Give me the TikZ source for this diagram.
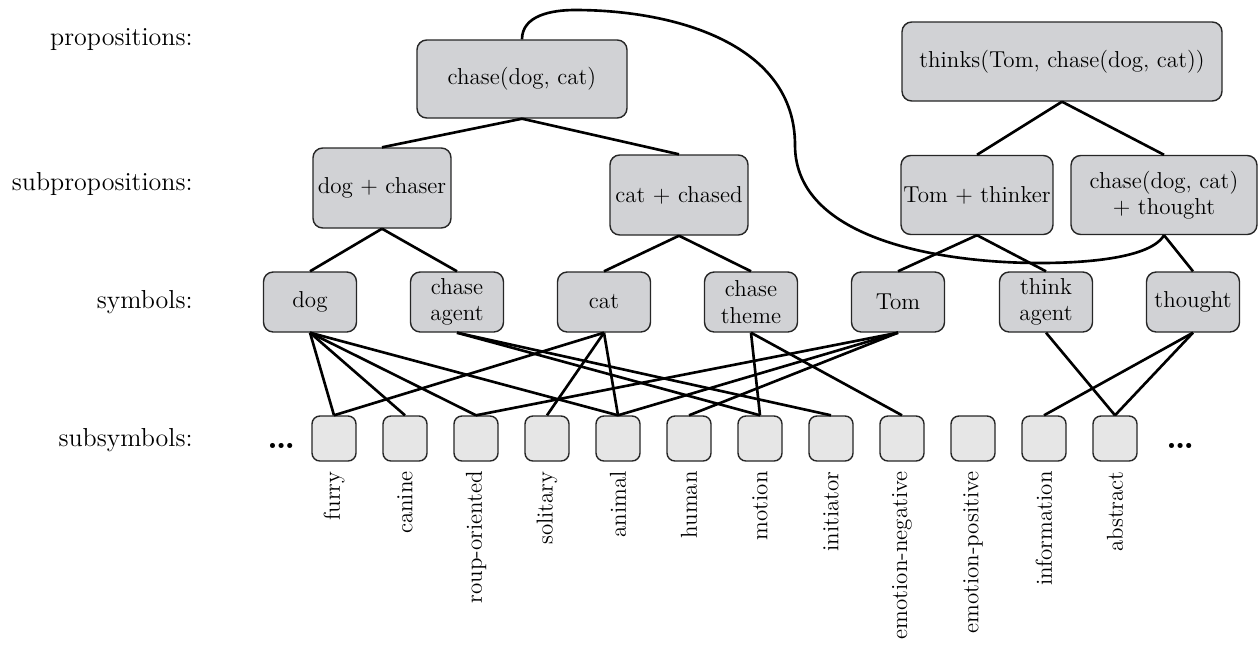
\documentclass[tikz,border=0pt]{standalone}

\definecolor{boxgray}{RGB}{209,210,213}
\definecolor{subgray}{RGB}{230,230,230}
\newcommand{\boxfont}{\fontsize{13.1}{15}\selectfont}
\newcommand{\levelfont}{\fontsize{14.8}{17}\selectfont}

\tikzset{
    prop/.style={draw=black!85, fill=boxgray, rounded corners=5.5pt, line width=0.8pt,
        align=center, font=\boxfont, inner sep=1pt},
    symb/.style={prop, minimum width=1.86cm, minimum height=1.2cm},
    subsymb/.style={draw=black!85, fill=subgray, rounded corners=4.5pt, line width=0.8pt,
        minimum width=0.88cm, minimum height=0.9cm, inner sep=0pt},
    feat/.style={rotate=90, anchor=east, font=\boxfont, inner sep=0pt},
    level/.style={anchor=east, font=\levelfont, inner sep=0pt},
    link/.style={line width=1.5pt},
}

\begin{document}
\begin{tikzpicture}[x=0.02cm, y=0.02cm]
    \useasboundingbox (0, 0) rectangle (1258, -647);

    % row labels
    \node [level] (lprop) at (193, -40) {propositions:};
    \node [level] (lsubprop) at (193, -184) {subpropositions:};
    \node [level] (lsym) at (193, -302) {symbols:};
    \node [level] (lsubsym) at (193, -440) {subsymbols:};

    % propositions
    \node [prop, minimum width=4.2cm, minimum height=1.56cm] (chase) at (522, -79) {chase(dog, cat)};
    \node [prop, minimum width=6.4cm, minimum height=1.58cm] (thinks) at (1062, -61.5) {thinks(Tom, chase(dog, cat))};

    % subpropositions
    \node [prop, minimum width=2.76cm, minimum height=1.6cm] (dogchaser) at (382, -188) {dog + chaser};
    \node [prop, minimum width=2.76cm, minimum height=1.6cm] (catchased) at (679, -195) {cat + chased};
    \node [prop, minimum width=3.04cm, minimum height=1.58cm] (tomthinker) at (977, -195) {Tom + thinker};
    \node [prop, minimum width=3.72cm, minimum height=1.58cm] (chasethought) at (1164, -195) {chase(dog, cat)\\+ thought};

    % symbols
    \node [symb] (dog) at (310, -302) {dog};
    \node [symb] (chaseagent) at (457, -302) {chase\\agent};
    \node [symb] (cat) at (604, -302) {cat};
    \node [symb] (chasetheme) at (751, -302) {chase\\theme};
    \node [symb] (tom) at (898, -302) {Tom};
    \node [symb] (thinkagent) at (1046, -302) {think\\agent};
    \node [symb] (thought) at (1193, -302) {thought};

    % subsymbols
    \foreach \name/\txt [count=\i from 0] in {furry/furry, canine/canine, group/roup-oriented,
        solitary/solitary, animal/animal, human/human, motion/motion, initiator/initiator,
        emoneg/emotion-negative, emopos/emotion-positive, information/information, abstract/abstract} {
        \node [subsymb] (\name) at ({334 + 71*\i}, -438.5) {};
        \node [feat] (\name-txt) at ({334 + 71*\i}, -471) {\txt};
    }
    \node [font=\fontsize{20}{22}\selectfont\bfseries, inner sep=0pt] (ldots) at (282, -446) {\dots};
    \node [font=\fontsize{20}{22}\selectfont\bfseries, inner sep=0pt] (rdots) at (1181, -446) {\dots};

    % tree links
    \draw [link] (chase.south) -- (dogchaser.north);
    \draw [link] (chase.south) -- (catchased.north);
    \draw [link] (thinks.south) -- (tomthinker.north);
    \draw [link] (thinks.south) -- (chasethought.north);
    \draw [link] (dogchaser.south) -- (dog.north);
    \draw [link] (dogchaser.south) -- (chaseagent.north);
    \draw [link] (catchased.south) -- (cat.north);
    \draw [link] (catchased.south) -- (chasetheme.north);
    \draw [link] (tomthinker.south) -- (tom.north);
    \draw [link] (tomthinker.south) -- (thinkagent.north);
    \draw [link] (chasethought.south) -- (thought.north);

    % symbols to subsymbols
    \foreach \a/\b in {dog/furry, dog/canine, dog/group, dog/animal,
        chaseagent/motion, chaseagent/initiator,
        cat/furry, cat/solitary, cat/animal,
        chasetheme/motion, chasetheme/emoneg,
        tom/group, tom/animal, tom/human,
        thinkagent/abstract, thought/information, thought/abstract}
        \draw [link] (\a.south) -- (\b.north);

    % the embedded proposition
    \coordinate (arctop) at (575, -10);
    \coordinate (arcside) at (795, -145);
    \coordinate (arcbottom) at (1040, -263);
    \draw [link] (chase.north) to [out=90, in=180] (arctop)
        to [out=0, in=90] (arcside)
        to [out=-90, in=180, looseness=0.9] (arcbottom)
        to [out=0, in=-120, looseness=0.6] (chasethought.south);
\end{tikzpicture}
\end{document}
